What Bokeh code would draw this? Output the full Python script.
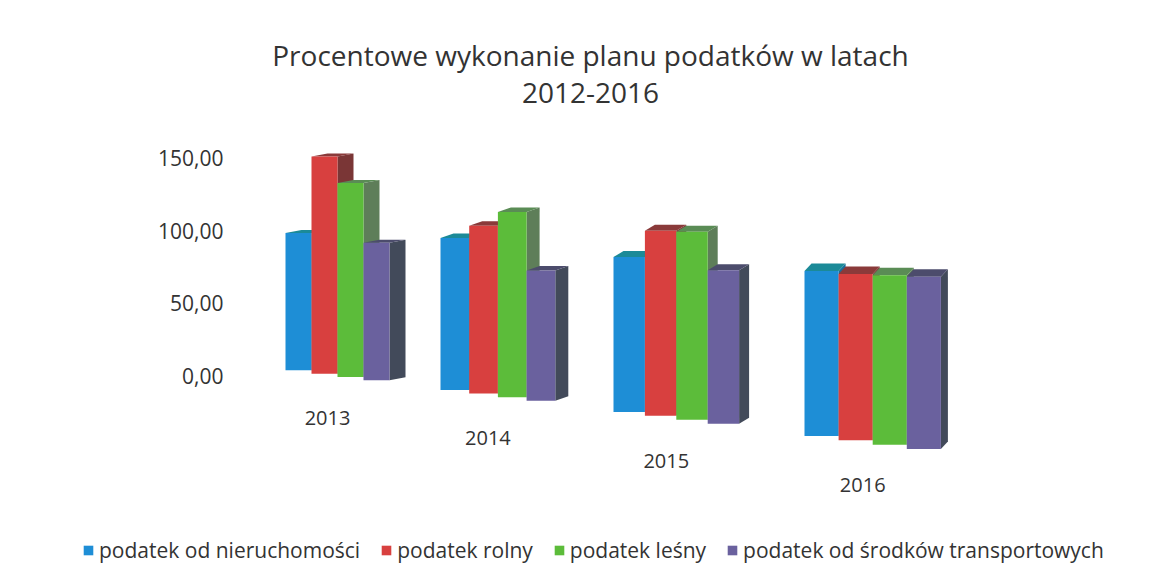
from bokeh.plotting import figure
from bokeh.models import (Range1d, FixedTicker, CustomJSTickFormatter, Label,
                          Legend, LegendItem, ColumnDataSource)
from bokeh.core.properties import value
from bokeh.embed import file_html
from bokeh.resources import INLINE

# ---------------- data ----------------
years = ["2013", "2014", "2015", "2016"]
series_names = ["podatek od nieruchomości", "podatek rolny", "podatek leśny",
                "podatek od środków transportowych"]
nieruchomosci = [95, 105, 107, 114]
rolny = [150, 116, 128, 115]
lesny = [134, 128, 130, 117]
transportowe = [95, 90, 106, 119]
y_ticks = [0, 50, 100, 150]
title_line1 = "Procentowe wykonanie planu podatków w latach"
title_line2 = "2012-2016"

series_values = [nieruchomosci, rolny, lesny, transportowe]

# ---------------- style ----------------
front_colors = ["#1E8ED6", "#D8403F", "#5CBC3A", "#6A619E"]
side_colors = ["#176E9C", "#7A3636", "#5E7E59", "#424A5A"]
top_colors = ["#1B8A98", "#8A3A3A", "#5A8C55", "#4C4C6C"]
FONT = "Open Sans"
TEXT_COLOR = "#333333"

# ---------------- layout (pixel-like data x, perspective floor) ----------------
PX = 1.447            # pixels per value unit on the y scale
Y0_PX = 375           # pixel row of value 0 on the axis
AXIS_X = 240
W, H = 1165, 564


def base_value(x):
    """sloping floor of the pseudo-3D chart, in data units"""
    base_px = 370 + 0.1256 * (x - 299)
    return (Y0_PX - base_px) / PX


p = figure(width=W, height=H, output_backend="svg", toolbar_location=None,
           x_range=Range1d(0, W),
           y_range=Range1d(-(H - Y0_PX) / PX, Y0_PX / PX),
           x_axis_location=None, min_border_left=0,
           min_border_right=0, min_border_top=0, min_border_bottom=0)
p.outline_line_color = None
p.grid.grid_line_color = None
p.background_fill_color = "white"
p.border_fill_color = "white"

yax = p.yaxis[0]
yax.fixed_location = AXIS_X
yax.ticker = FixedTicker(ticks=y_ticks)
yax.formatter = CustomJSTickFormatter(code="return tick.toFixed(2).replace('.', ',');")
yax.axis_line_color = None
yax.major_tick_line_color = None
yax.minor_tick_line_color = None
yax.major_tick_out = 0
yax.major_tick_in = 0
yax.major_label_standoff = 17
yax.major_label_text_font = FONT
yax.major_label_text_font_size = "21px"
yax.major_label_text_color = TEXT_COLOR

front_renderers = []
label_x, label_y = [], []
for j, vals in enumerate(series_values):
    fl, fr, fb, ft = [], [], [], []
    sx, sy, tx, ty = [], [], [], []
    for i, v in enumerate(vals):
        left_g = 285 + 155 * i + 9 * i * (i - 1)
        w = 26 + 2.7 * i
        dx = 16 - 3 * i
        dy = (3 + 1.5 * i) / PX
        xl = left_g + w * j
        xr = xl + w
        b = base_value(xl + w / 2)
        t = b + v
        fl.append(xl); fr.append(xr); fb.append(b); ft.append(t)
        sx.append([xr, xr + dx, xr + dx, xr])
        sy.append([b, b + dy, t + dy, t])
        tx.append([xl, xr, xr + dx, xl + dx])
        ty.append([t, t, t + dy, t + dy])
        if j == 0:
            cx = left_g + 2 * w - 10
            label_x.append(cx)
            label_y.append(base_value(cx) - 44 / PX)
    p.patches(sx, sy, fill_color=side_colors[j], line_color=None)
    p.patches(tx, ty, fill_color=top_colors[j], line_color=None)
    r = p.quad(left=fl, right=fr, bottom=fb, top=ft,
               fill_color=front_colors[j], line_color=None)
    front_renderers.append(r)

ysrc = ColumnDataSource(dict(x=label_x, y=label_y, t=years))
p.text(x="x", y="y", text="t", source=ysrc, text_align="center",
       text_baseline="middle", text_font=value(FONT), text_font_size="20px",
       text_color=TEXT_COLOR)

p.add_layout(Label(x=590, y=(Y0_PX - 54) / PX, text=title_line1,
                   text_align="center", text_baseline="middle", text_font=FONT,
                   text_font_size="28px", text_color=TEXT_COLOR))
p.add_layout(Label(x=590, y=(Y0_PX - 92) / PX, text=title_line2,
                   text_align="center", text_baseline="middle", text_font=FONT,
                   text_font_size="28px", text_color=TEXT_COLOR))

legend = Legend(items=[LegendItem(label=n, renderers=[r])
                       for n, r in zip(series_names, front_renderers)],
                orientation="horizontal", location=(82, 0),
                label_text_font=FONT, label_text_font_size="21px",
                label_text_color=TEXT_COLOR, glyph_width=12, glyph_height=12,
                label_standoff=5, spacing=20, padding=0, margin=0,
                border_line_color=None, background_fill_alpha=0)
p.add_layout(legend)

open("out.html", "w").write(file_html(p, INLINE))
